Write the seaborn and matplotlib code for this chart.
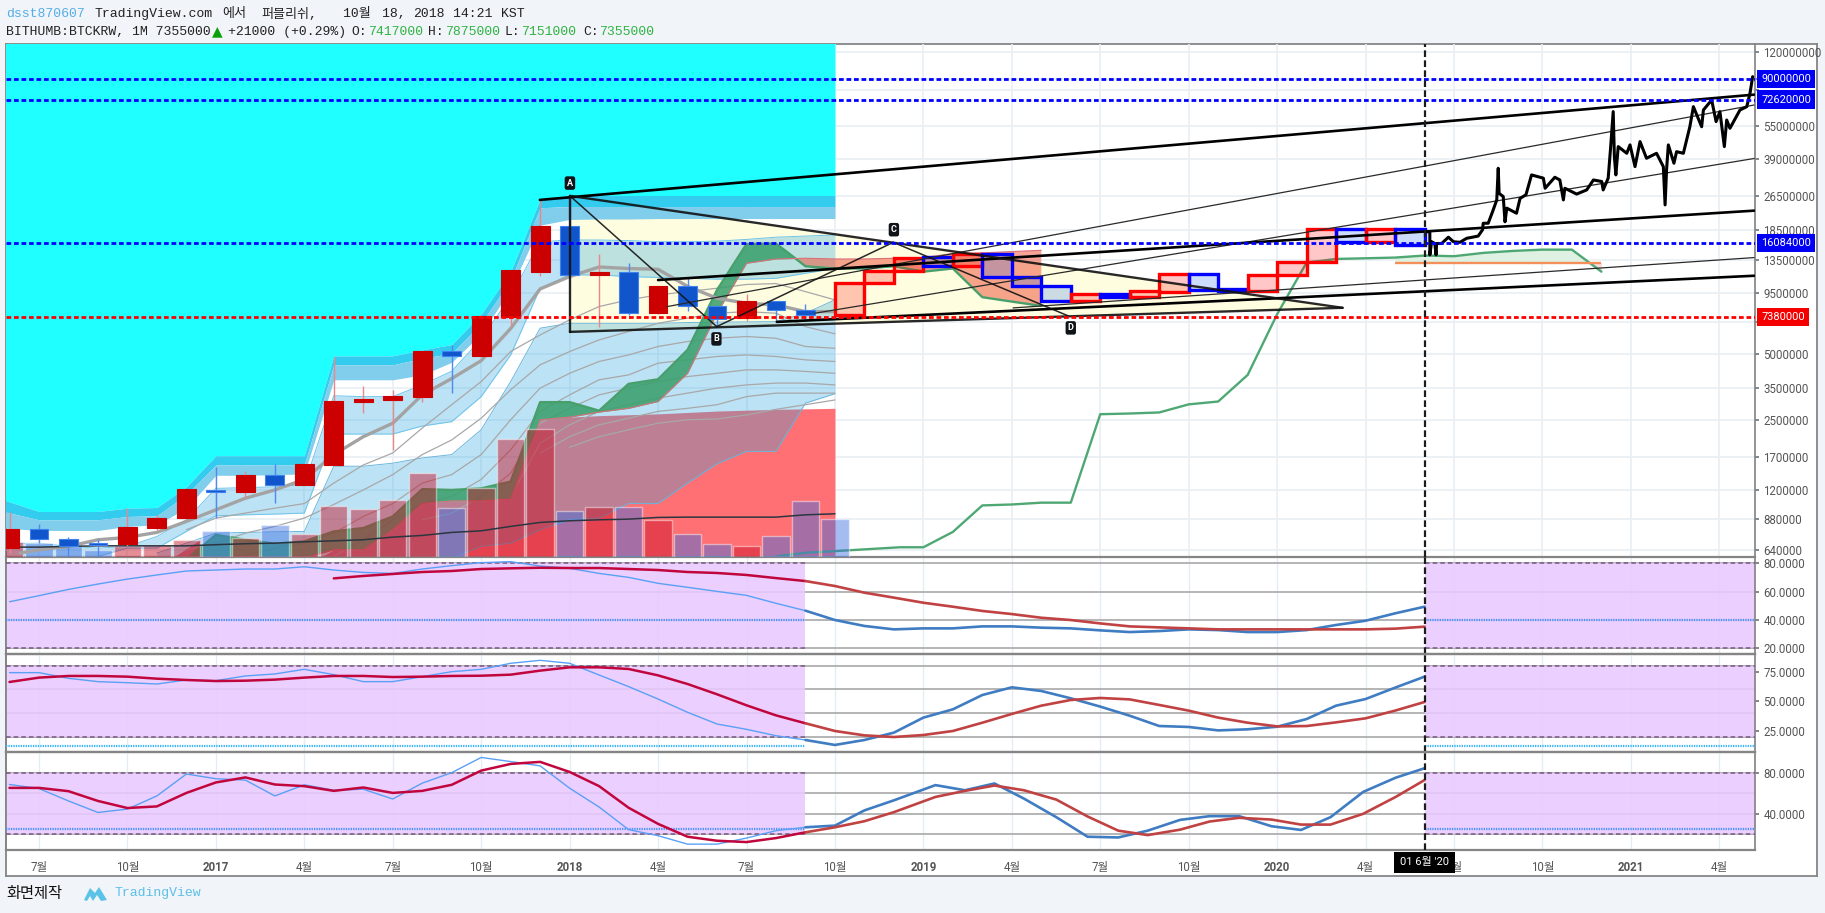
import numpy as np, pandas as pd
import matplotlib
matplotlib.use('Agg')
import matplotlib.pyplot as plt
from matplotlib.patches import Polygon
from matplotlib.ticker import NullLocator
import seaborn as sns

sns.set_theme(style='white')
plt.rcParams['font.family'] = ['Roboto', 'Noto Sans CJK KR', 'DejaVu Sans']
MONO = ['Liberation Mono', 'Noto Sans CJK KR', 'DejaVu Sans']

# ---------- data (prices in million KRW, x in months since Jul 2016) ----------
month_ticks = list(range(0, 58, 3))
month_labels = ['7월','10월','2017','4월','7월','10월','2018','4월','7월','10월','2019','4월','7월','10월','2020','4월','7월','10월','2021','4월']
price_ticks = [120,90,80,55,39,26.5,18.5,13.5,9.5,7,5,3.5,2.5,1.7,1.2,.88,.64]
price_labels = ['120000000','','','55000000','39000000','26500000','18500000','13500000','9500000','','5000000','3500000','2500000','1700000','1200000','880000','640000']

candle_top = [0.799,0.796,0.716,0.685,0.811,0.897,1.21,1.2,1.4,1.4,1.57,3.05,3.12,3.21,5.19,5.17,7.47,12.1,19.3,19.3,11.9,11.9,10.2,10.2,8.27,8.75,8.75,7.96]
candle_bot = [0.652,0.716,0.664,0.675,0.682,0.808,0.89,1.18,1.18,1.27,1.27,1.56,3.02,3.09,3.19,4.93,4.89,7.42,11.9,11.5,11.5,7.7,7.67,8.27,7.25,7.28,7.96,7.56]
candle_hi = [0.949,0.838,0.73,0.716,0.996,0.921,1.21,1.52,1.47,1.57,1.57,4.85,3.57,3.44,5.19,5.53,7.53,12.1,25.5,26.5,14.3,13,10.2,11.1,8.27,9.46,8.75,8.46]
candle_lo = [0.616,0.685,0.598,0.598,0.669,0.787,0.89,0.897,1.1,1.05,1.27,1.56,2.69,1.82,3.02,3.33,4.89,6.75,11.4,11.4,6.68,7.56,7.61,7.9,6.68,7.06,7.01,7.2]
candle_side = list('rbbbrrrbrbrrrrrbrrrbrbrbbrbb')

band_c = [1.08,0.957,0.957,0.957,0.991,0.998,1.24,1.72,1.72,1.72,1.72,4.91,4.91,4.91,5.23,5.53,7.61,11.9,25.5,26.5]+[26.5]*9
band_d = [0.957,0.877,0.877,0.877,0.908,0.915,1.14,1.56,1.56,1.56,1.56,4.47,4.47,4.47,4.79,5.04,6.93,10.9,23.3,23.6]+[23.6]*9
band_e = [.804,.784,.784,.784,.818,.832,.991,1.4,1.4,1.41,1.42,3.82,3.82,3.82,4.02,4.59,6.19,9.9,19.4,20.6,20.7,20.7,20.8]+[20.8]*6
band_a_top = [0.682,0.686,0.663,0.651,0.663,0.736,0.877,1.22,1.23,1.24,1.27,3.23,3.2,3.2,3.62,4.18,5.85,9.18,16.3,16.6,16.6,16.5,16.3,16.3,16.4,16.7,17.1,17.3,17.5]
band_a_bot = [0.597,0.597,0.597,0.597,0.651,0.651,0.776,0.915,0.924,0.931,0.941,2.16,2.16,2.16,2.35,2.46,3.2,4.96,10,11.5,11.5,11.3,11.2,11.1,11,11,11.1,11.7,12.3]
band_b_top = [0.618,0.686,0.762,0.768,0.773,0.776,1.54,1.54,1.59,1.68,1.74,2.26,3.75,6.57,6.92,6.92,6.92,6.92,6.97,7,7.02,7.04,7.69,8.85]
band_b_bot = [0.586]*10+[0.586,0.663,0.686,0.79,0.877,0.893,1.04,1.04,1.29,1.58,1.8,1.8,2.99,3.3]
red_x = [4.6,5.46,5.47,9.5,10,11,12,13,14,15,16,17,18,19,21,23,25,27]
red_top = [.597,.711,.586,.586,.64,.64,.79,1.04,1.07,1.07,1.09,2.51,2.58,2.62,2.67,2.75,2.8,2.83]
cloud_x = [5.12]+list(range(6,35))
cloud_up = [0.597,0.749,0.711,0.682,0.699,0.776,0.804,0.908,1.21,1.2,1.22,1.31,3.02,3.02,2.76,3.66,3.84,5.23,9.82,15.9,16,12.6,12.3,12.3,12.6,11.9,12.3,9.1,8.69,8.3]
cloud_lo = [0.597,0.593,0.586,0.586,0.586,0.64,0.64,0.79,1.04,1.07,1.07,1.09,2.51,2.58,2.72,2.83,3.04,4.09,7.69,13,13.6,13.7,13.6,13.6,13.7,13.8,14.4,14.5,14.7,14.9]
span_x = [25,26,27,29.2]+list(range(30,54))
span_y = [.597,.62,.631,.657,.657,.772,1.02,1.03,1.05,1.05,2.66,2.68,2.71,2.95,3.04,4.02,7.61,13.1,13.6,13.7,13.8,14.1,14,14.5,14.8,15,15,11.9]
orange_level = 13.1
ma_x = [-0.64]+list(range(0,28))
ma_thick = [0.618,0.64,0.663,0.711,0.729,0.768,0.862,0.974,1.1,1.2,1.34,1.74,2.1,2.42,3.26,3.87,4.67,6.55,9.93,11.3,12.5,12.3,12.2,10.2,9,8.54,8.39,7.82,7.82]
ma_long = [0.658,0.658,0.663,0.667,0.667,0.667,0.667,0.675,0.682,0.686,0.696,0.703,0.711,0.731,0.744,0.768,0.781,0.818,0.853,0.868,0.877,0.883,0.899,0.902,0.902,0.902,0.902,0.924,0.934]
fan_a = [.79,.893,.941,.991,1.04,1.29,1.56,1.77,2.3,2.94,3.75,5.14,6.12,7.17,8.25,8.85,9.32,9.65,10,10.4,10.5,9.65,8.85]
fan_b = [.64,.686,.762,.818,.893,1.03,1.2,1.41,1.74,2.03,2.55,3.44,4.47,5.14,5.81,6.34,6.92,7.3,7.69,7.82,7.69,6.68,6.19]
fan_c = [.607,.651,.686,.762,.908,1.04,1.29,1.41,1.74,2.51,3.5,4.09,4.63,4.96,5.42,5.71,5.91,6.02,5.91,5.42,5.32]
fan_d = [.597,.711,.877,1.04,1.12,1.34,1.83,2.74,3.26,3.82,4.02,4.55,4.71,4.88,4.96,4.88,4.71,4.63]
fan_e = [.877,.941,1.12,1.43,2.42,2.83,3.26,3.5,3.75,3.95,4.09,4.24,4.24,4.17,4.09]
fan_f = [1.12,1.96,2.38,2.74,2.94,3.15,3.32,3.5,3.62,3.69,3.69,3.62]
fan_g = [1.77,2.1,2.38,2.55,2.74,2.83,2.94,3.2,3.32,3.32,3.32]
fan_h = [1.88,2.1,2.26,2.42,2.51,2.53,2.64,2.8,2.94,3.09]
volume = [15,13.4,11,6.7,10.7,12,16.7,25.7,18.4,31.7,22.4,50.7,47.7,56.7,83.4,48.4,68.4,117.4,127.4,45.7,50,50,36.7,22.7,12.7,10.7,20.7,56,37.7]
volume_side = list('rbbbrrrbrbrrrrrbrrrbrbrbbrbb')+['b']
box_top = [10.6,12,13.8,13.9,14.3,14.3,11.3,10.2,9.39,9.39,9.72,11.6,11.6,9.93,11.5,13.2,18.7,18.7,18.7,18.7]
box_bot = [7.56,10.6,12,12.6,12.6,11.3,10.2,8.75,8.75,9.16,9.16,9.62,9.82,9.76,9.76,11.5,13.2,16.3,16.3,15.8]
box_side = list('rrrbrbbbrbrrbbrrrbrb')
path_x = [47.01,47.18,47.18,47.24,47.35,47.39,47.41,47.58,47.81,47.98,48.20,48.43,48.82,48.97,48.99,49.16,49.31,49.45,49.50,49.53,49.67,49.73,49.79,50.12,50.24,50.44,50.63,51.03,51.09,51.42,51.59,51.71,51.76,52.16,52.50,52.73,53.01,53.06,53.23,53.31,53.40,53.44,53.49,53.57,53.86,53.97,54.14,54.31,54.53,54.87,55.10,55.16,55.21,55.27,55.46,55.55,55.78,56.00,56.12,56.40,56.46,56.74,56.89,57.02,57.17,57.25,57.36,57.70,57.93,58.04,58.13]
path_y = [18.1,18.1,14.2,16.3,16,14.2,16,16,17.1,16.3,16.2,16.9,17.3,18.5,19.8,19.8,22.4,25.3,35.3,27.1,26.2,20.1,23.2,22,25.7,26.7,32.9,31.8,28.6,32.1,31.2,25.3,28.6,26.9,28.1,31.2,30.7,28.1,31.8,43.5,64,39.9,32.9,44.3,41.3,45.1,35.9,46.7,39.2,41.3,35.9,24,34.7,45.1,37.2,42,41.3,54.6,67.4,54.6,65.1,72.3,57.6,64,44.3,58.6,53.7,65.1,67.4,77.5,92.4]
trend_x = [[16.99,58.18],[21.30,58.18],[26.32,58.18],[21.00,58.18],[25.03,58.18],[33.04,58.18]]
trend_y = [[25.3,76.5],[8.24,68.6],[7.69,39.1],[10.9,22.6],[7.02,11.4],[8.13,13.8]]
trend_thick = [True,False,False,True,True,False]
pat_x = {'A':18.01,'B':22.99,'C':28.98,'D':34.91,'X':18.01,'P':44.22}
pat_y = {'A':26.4,'B':6.68,'C':16.2,'D':7.48,'X':6.32,'P':8.14}
pat_label_x = [18.01,22.98,29.0,35.0]
pat_label_y = [30.2,5.87,18.5,6.59]
pat_label = ['A','B','C','D']
level_blue = [90,72.62,16.084]
level_blue_txt = ['90000000','72620000','16084000']
level_red = 7.38

m_left = list(range(-1,30))
m_right = list(range(30,48))
r1_blue = [52.9,57.2,61.6,65.4,68.9,71.8,74.6,75.3,76,76,77.6,75.3,73.6,72.9,76,78.4,80.5,81.2,78.1,76.5,72.9,70.1,65.9,63.1,60.2,57.4,51.8,46.6,40,35.8,33.4,34.1,34.1,35.5,35.5,34.6,34.1,32.7,31.5,32.2,33.4,32.9,31.5,31.5,32.9,36.5,39.5,44.7,49.4]
r1_red_x = list(range(10,48))
r1_red = [69.4,71.1,72.5,73.9,74.6,76,76.5,76.9,76.7,76.7,76,75.3,73.9,73.2,71.8,69.6,67.5,64,59.3,55.8,52.2,49.4,46.4,44.2,41.6,40,37.6,35.5,34.8,34.1,33.4,33.4,33.4,33.4,33.4,33.4,33.9,35.3]
r2_blue = [74.1,74.1,69.3,66.5,65.6,64.5,67.9,67.3,71.3,73,76.9,72.4,66.5,66.5,70.7,74.9,76.9,82,84.5,82,72.1,62.3,51.8,40.6,30.7,26.2,20.8,17.2,13,17.2,23.4,36.1,43.1,55.2,61.7,58.6,52.4,45.4,37.7,29,28.2,25.3,26.2,28.4,34.9,46.2,51.8,61.4,70.7]
r2_red = [66.2,69.9,71.3,71.3,70.7,69,67.9,67,67.3,68.2,69.9,71.3,71.3,70.4,70.7,71.3,71.5,72.4,75.8,78.6,78.6,77.2,71.8,64.5,55.8,46.5,38,31.3,24.8,21.1,19.7,21.4,24.8,31.8,39.2,46.2,51,52.7,51.5,46.8,42,36.1,31.8,28.7,29,32.1,35.5,42,49.3]
r3_x = m_left+[30.41,31.41,32.41,33.41,34.51,35.57,36.61,37.61,38.71,39.71,40.71,41.81,42.81,43.81,44.92,46.02,47]
r3_blue = [68.5,64.6,52.5,41.3,44.6,57.4,78.7,74.1,72.8,57.4,68.2,62.9,63.9,54.4,69.8,80,94.8,90.8,86.6,64.9,46.6,24.6,18.7,10.5,10.5,16.4,23.6,26.9,28.5,43.3,53.1,67.9,62.9,69.5,54.8,36.7,17.7,17,23.6,34.1,37.7,37.7,27.9,24.3,36.7,61.3,75.1,84.3]
r3_red = [65.2,65.2,62,52.5,45.6,47.2,60.3,70.5,75.4,68.5,66.9,62.3,65.6,60.3,62.3,68.2,82,88.5,90.5,80.7,66.9,45.9,30.2,17.7,13.8,12.5,16.4,22,26.9,32.8,41.6,56.4,62.3,67.5,62.9,53.8,37.4,23.6,19.3,24.6,32.5,36.1,34.4,29.5,29.5,40,56.4,72.8]

# ---------- layout helpers ----------
W, H = 1825, 913
PAGE = '#f1f4f8'
fig = plt.figure(figsize=(W/100, H/100), dpi=100, facecolor=PAGE)
def px_axes(l, t, r, b, **kw):
    return fig.add_axes([l/W, 1-b/H, (r-l)/W, (b-t)/H], **kw)
def ftext(x, y, s, **kw):
    kw.setdefault('va', 'center')
    fig.text(x/W, 1-y/H, s, **kw)
def M(a):
    return np.asarray(a, dtype=float)*1e6
def line(ax, x, y, color, lw, **kw):
    sns.lineplot(x=np.asarray(x, dtype=float), y=np.asarray(y, dtype=float), ax=ax, color=color,
                 linewidth=lw, estimator=None, sort=False, errorbar=None, **kw)

L_, R_ = 6.3, 1755
XLIM = (-1.109, 58.21)
YLIM = (0.595e6, 1.308e8)
SP = '#858585'

frame = px_axes(L_, 43.6, 1817, 875.7, zorder=0)
frame.set(xticks=[], yticks=[], facecolor='white')
for s in frame.spines.values():
    s.set_color(SP); s.set_linewidth(1.3)

# ---------- main panel, back layer ----------
ax = px_axes(L_, 43.6, R_, 556.7, zorder=1)
ax.patch.set_visible(False)
ax.set_yscale('log')
ax.set_yticks(M(price_ticks))
ax.set_yticklabels(price_labels, fontsize=8.3, color='#555555')
ax.yaxis.set_minor_locator(NullLocator())
ax.yaxis.tick_right()
ax.tick_params(axis='y', length=3, color='#777777', pad=3, which='major', right=True)
ax.set_xticks(month_ticks)
ax.tick_params(axis='x', length=0, labelbottom=False)
ax.grid(True, color='#e9eff5', lw=1.2)
ax.set_axisbelow(True)
for s in ['top', 'left', 'bottom']:
    ax.spines[s].set_visible(False)
ax.spines['right'].set_color(SP)

band_x = [-1.2]+list(range(0, 28))
ax.fill([pat_x['A'], pat_x['P'], pat_x['X']], M([pat_y['A'], pat_y['P'], pat_y['X']]), color='#fffde0', lw=0, zorder=1)
ax.fill_between(band_x, M(band_c), 2e8, color='#1fffff', lw=0, zorder=2)
ax.fill_between(band_x, M(band_c), M(band_d), color='#33cbee', lw=0, zorder=2)
ax.fill_between(band_x, M(band_d), M(band_e), color='#80cdec', lw=0, zorder=2)
ax.fill_between(red_x, M(red_top), 1e5, color='#ff7075', lw=0, zorder=2.2)
BL = (35/255, 162/255, 222/255)
ax.fill_between(band_x, M(band_a_top), M(band_a_bot), color=BL, alpha=.3, lw=0, zorder=3)
for arr in (band_a_top, band_a_bot):
    ax.plot(band_x, M(arr), color='#6cc4ea', lw=.7, zorder=3)
bx = list(range(4, 28))
ax.fill_between(bx, M(band_b_top), M(band_b_bot), color=BL, alpha=.3, lw=0, zorder=3)
for arr in (band_b_top, band_b_bot):
    ax.plot(bx, M(arr), color='#6cb6dc', lw=.7, zorder=3)

for arr in (fan_a, fan_b, fan_c, fan_d, fan_e, fan_f, fan_g, fan_h):
    xs = list(range(28-len(arr), 28))
    line(ax, xs, M(arr), '#a8a8a8', .9, zorder=4)

up, lo = M(cloud_up), M(cloud_lo)
ax.fill_between(cloud_x, up, lo, where=up >= lo, interpolate=True, color='#3ca06e', alpha=.88, lw=0, zorder=5)
ax.fill_between(cloud_x, up, lo, where=up <= lo, interpolate=True, color='#ee5a42', alpha=.55, lw=0, zorder=5)
line(ax, cloud_x, up, '#47a06c', 1.7, zorder=6)
line(ax, cloud_x, lo, '#d9707a', .8, zorder=6)

gx, gy = np.array(span_x, dtype=float), M(span_y)
sel = gx >= 46
ax.fill_between(gx[sel], gy[sel], orange_level*1e6, where=gy[sel] >= orange_level*1e6, interpolate=True, color='#dff1e2', lw=0, zorder=5)
ax.fill_between(gx[sel], gy[sel], orange_level*1e6, where=gy[sel] <= orange_level*1e6, interpolate=True, color='#fbdcdc', lw=0, zorder=5)
line(ax, gx, gy, '#4fa874', 1.7, zorder=6)
ax.plot([46, 53], [orange_level*1e6]*2, color='#f48f5c', lw=1.7, zorder=6, solid_capstyle='butt')

ax.set(xlim=XLIM, ylim=YLIM, xlabel='', ylabel='')

# ---------- volume layer ----------
av = px_axes(L_, 43.6, R_, 556.7, zorder=2)
vol = pd.DataFrame({'month': list(range(-1, 28)), 'volume': volume, 'side': volume_side})
sns.barplot(data=vol, x='month', y='volume', hue='side', hue_order=['r', 'b'], native_scale=True, dodge=False,
            palette={'r': '#c80a20', 'b': '#3c6ee1'}, alpha=.46, width=.93, saturation=1, errorbar=None, legend=False, ax=av)
av.set(xlim=XLIM, ylim=(0, 513), xlabel='', ylabel='', xticks=[], yticks=[])
av.set_axis_off()

# ---------- main panel, front layer ----------
at = px_axes(L_, 43.6, R_, 556.7, zorder=3)
at.patch.set_visible(False)
at.set_yscale('log')
at.yaxis.set_minor_locator(NullLocator())
line(at, ma_x, M(ma_thick), '#a3a3a3', 2.4, zorder=2)
line(at, list(range(-1, 28)), M(ma_long), '#2c3640', 1.1, zorder=2)

cx = np.arange(-1, 27)
ct, cb = M(candle_top), M(candle_bot)
wick_col = ['#e98888' if s == 'r' else '#4f8aec' for s in candle_side]
at.vlines(cx, M(candle_lo), M(candle_hi), colors=wick_col, lw=1, zorder=3)
at.bar(cx, ct-cb, bottom=cb, width=.64, zorder=4,
       color=['#cc0000' if s == 'r' else '#1155cc' for s in candle_side],
       edgecolor=['#cc0000' if s == 'r' else '#3f82ee' for s in candle_side], linewidth=.8)

bxx = np.arange(27, 47)
bt, bb = M(box_top), M(box_bot)
at.bar(bxx, bt-bb, bottom=bb, width=1, align='edge', zorder=5,
       color=[(1, 0, 0, .22) if s == 'r' else (.1, .4, .95, .22) for s in box_side], linewidth=0)
at.bar(bxx, bt-bb, bottom=bb, width=1, align='edge', zorder=5.5, fill=False,
       edgecolor=['#ff0000' if s == 'r' else '#0000ff' for s in box_side], linewidth=2.4)

for xs, ys, thick in zip(trend_x, trend_y, trend_thick):
    line(at, xs, M(ys), '#000000' if thick else '#2a2a2a', 1.9 if thick else .9, zorder=6)
for a, b, lw in [('A','P',1.7), ('X','P',1.7), ('A','X',1.7), ('A','B',1.1), ('B','C',1.1), ('C','D',1.1)]:
    line(at, [pat_x[a], pat_x[b]], M([pat_y[a], pat_y[b]]), '#111111', lw, zorder=6, alpha=.9)
for x0, y0, s in zip(pat_label_x, pat_label_y, pat_label):
    at.text(x0, y0*1e6, s, color='white', fontsize=6.5, fontweight='bold', ha='center', va='center', zorder=9,
            bbox=dict(boxstyle='round,pad=0.25', fc='#101418', ec='none'))

DASH = (0, (1.7, 1))
for v in level_blue:
    at.axhline(v*1e6, color='#0000ff', lw=2.0, ls=DASH, zorder=7)
at.axhline(level_red*1e6, color='#ff0000', lw=2.0, ls=DASH, zorder=7)
line(at, path_x, M(path_y), '#000000', 2.2, zorder=6.5)

LAB = dict(xycoords=('axes fraction', 'data'), xytext=(4.5, 0), textcoords='offset points', color='white',
           fontsize=7.9, va='center', ha='left', annotation_clip=False, zorder=20)
for v, t in zip(level_blue, level_blue_txt):
    at.annotate(t, xy=(1, v*1e6), bbox=dict(boxstyle='square,pad=0.38', fc='#0000f5', ec='none'), **LAB)
at.annotate('7380000', xy=(1, level_red*1e6), bbox=dict(boxstyle='square,pad=0.38', fc='#f50000', ec='none'), **LAB)

at.set(xlim=XLIM, ylim=YLIM, xlabel='', ylabel='', xticks=[], yticks=[])
at.yaxis.set_minor_locator(NullLocator())
at.tick_params(which='both', length=0, labelleft=False, labelbottom=False)
for s in at.spines.values():
    s.set_visible(False)

# ---------- indicator panels ----------
CROSS = (0, (3, 1.5))
at.axvline(47, color='#1c1c1c', lw=1.6, ls=CROSS, zorder=8)

def panel(t, b, ylim, ticks, dotted, dot_col, left_end=26):
    a = px_axes(L_, t, R_, b, zorder=1)
    a.patch.set_visible(False)
    a.set(xlim=XLIM, ylim=ylim)
    a.set_xticks(month_ticks)
    a.grid(axis='x', color='#e4edf4', lw=1)
    a.set_axisbelow(True)
    a.yaxis.tick_right()
    a.set_yticks(ticks)
    a.set_yticklabels([f'{v:.4f}' for v in ticks], fontsize=8.3, color='#555555')
    a.tick_params(axis='y', length=3, color='#777777', pad=3, right=True)
    a.tick_params(axis='x', length=0, labelbottom=False)
    for g in (20, 40, 60, 80):
        a.axhline(g, color='#b4b4b4', lw=1.4, zorder=1)
    for x0, x1 in ((XLIM[0], left_end), (47, XLIM[1])):
        a.fill_between([x0, x1], 20, 80, color='#e9c9ff', alpha=.88, lw=0, zorder=2)
        a.plot([x0, x1], [80, 80], color='#75597f', lw=1.1, ls=(0, (3, 2)), zorder=3)
        a.plot([x0, x1], [20, 20], color='#75597f', lw=1.1, ls=(0, (3, 2)), zorder=3)
        a.plot([x0, x1], [dotted, dotted], color=dot_col, lw=1.6, ls=(0, (.6, .5)), zorder=3)
    for s in ['left', 'bottom', 'top', 'right']:
        a.spines[s].set_color(SP)
    a.spines['top'].set_linewidth(1.6)
    a.spines['bottom'].set_linewidth(1.6)
    return a

def two_part(a, x, y, thin, thick, split=26):
    x, y = np.asarray(x, dtype=float), np.asarray(y, dtype=float)
    i = int(np.searchsorted(x, split))
    line(a, x[:i+1], y[:i+1], thin[0], thin[1], zorder=5)
    line(a, x[i:], y[i:], thick[0], thick[1], zorder=5)

BLUE_T, BLUE_W = ('#5aa0f6', 1.0), ('#3f7cc2', 1.9)
RED_T, RED_W = ('#c0063c', 1.8), ('#c04242', 1.9)
a1 = panel(556.7, 654.3, (15.8, 84.7), [80, 60, 40, 20], 40, '#4b93f5')
two_part(a1, m_left+m_right, r1_blue, BLUE_T, BLUE_W)
two_part(a1, r1_red_x, r1_red, RED_T, RED_W)

a2 = panel(654.3, 751.7, (7.3, 89.6), [75, 50, 25], 12.1, '#3ab6f8')
two_part(a2, m_left+m_right, r2_blue, BLUE_T, BLUE_W)
two_part(a2, m_left+m_right, r2_red, RED_T, RED_W)

a3 = panel(751.7, 850.3, (4.5, 100.4), [80, 40], 25, '#4b93f5')
two_part(a3, r3_x, r3_blue, BLUE_T, BLUE_W)
two_part(a3, r3_x, r3_red, RED_T, RED_W)
a3.set_xticklabels(month_labels)
a3.tick_params(axis='x', length=3, color='#777777', labelbottom=True, labelsize=8.3, labelcolor='#555555', pad=5)
for lab, s in zip(a3.get_xticklabels(), month_labels):
    if s.isdigit():
        lab.set_fontweight('bold')
for a in (a1, a2, a3):
    a.axvline(47, color='#1c1c1c', lw=1.6, ls=CROSS, zorder=8)
    a.set(xlabel='', ylabel='', xlim=XLIM)
a3.annotate("01 6월 '20", xy=(47, 0), xycoords=('data', 'axes fraction'), xytext=(0, -8.5), textcoords='offset points',
            color='white', fontsize=8, ha='center', va='center', annotation_clip=False, zorder=20,
            bbox=dict(boxstyle='square,pad=0.5', fc='black', ec='none'))

# ---------- header & footer ----------
HS = 9.45
for x, y, s, c in [(6, 14, 'dsst870607', '#55aee8'), (94.7, 14, 'TradingView.com', '#222222'), (222, 14, '에서', '#222222'),
                   (261, 14, '퍼블리쉬,', '#222222'), (343, 14, '10월', '#222222'), (382, 14, '18,', '#222222'),
                   (413, 14, '2018', '#222222'), (453.5, 14, '14:21', '#222222'), (501, 14, 'KST', '#222222'),
                   (6, 32, 'BITHUMB:BTCKRW, 1M 7355000', '#222222'), (228, 32, '+21000 (+0.29%)', '#222222'),
                   (351, 32, 'O:', '#222222'), (368.5, 32, '7417000', '#2fb344'), (428, 32, 'H:', '#222222'),
                   (446, 32, '7875000', '#2fb344'), (505, 32, 'L:', '#222222'), (522, 32, '7151000', '#2fb344'),
                   (583, 32, 'C:', '#222222'), (600, 32, '7355000', '#2fb344')]:
    ftext(x, y, s, color=c, fontsize=HS, family=MONO)
ftext(212, 31, '▲', color='#0aa00a', fontsize=10, family='DejaVu Sans')
ftext(6, 893, '화면제작', color='#111111', fontsize=11, family='Noto Sans CJK KR')
ftext(114, 893, 'TradingView', color='#5cbfe8', fontsize=HS, family=MONO)
logo = [(84, 900), (90, 888), (95, 893), (99, 887), (107, 900), (101, 901), (97, 895), (93, 901), (90, 896), (87, 901)]
fig.add_artist(Polygon([(x/W, 1-y/H) for x, y in logo], closed=True, transform=fig.transFigure, color='#5cc3e8', lw=0))

fig.savefig('out.png', dpi=100, facecolor=fig.get_facecolor())
